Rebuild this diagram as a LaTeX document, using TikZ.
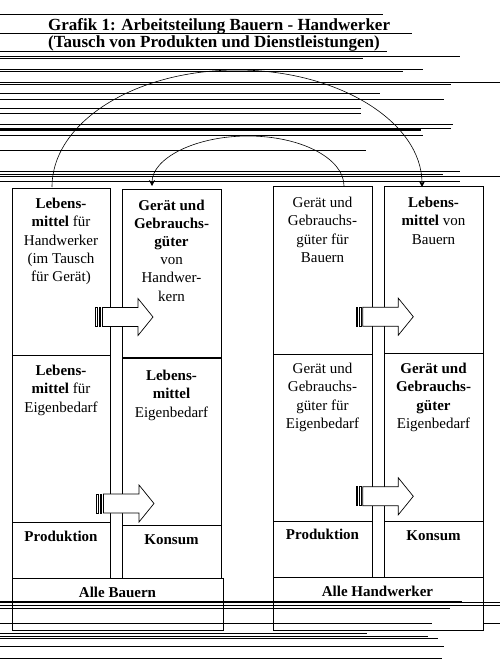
\documentclass[tikz,border=0pt]{standalone}
\usepackage{fontspec}
\setmainfont{Liberation Serif}
\usetikzlibrary{arrows.meta}
\begin{document}
\begin{tikzpicture}[x=1pt,y=-1pt,
  box/.style={draw, line width=0.9pt},
  txt/.style={font=\fontsize{15}{18.2}\selectfont, align=center, inner sep=0pt},
  ttl/.style={font=\bfseries\fontsize{17}{20}\selectfont, inner sep=0pt, anchor=base west},
  scan/.style={line width=0.7pt},
  scanthick/.style={line width=1.7pt},
  arcline/.style={line width=0.6pt, -{Stealth[length=6pt,width=6pt]}},
  blockarr/.pic={
    \draw[line width=0.7pt, fill=white] (6.8,-9.5) -- (42.3,-9.5) -- (42.3,-18.5) -- (57.3,0) -- (42.3,18.5) -- (42.3,9.5) -- (6.8,9.5) -- cycle;
    \draw[line width=0.7pt, fill=white] (0,-9.5) rectangle (1.6,9.5);
    \draw[line width=0.7pt, fill=white] (3.3,-9.5) rectangle (4.9,9.5);
  }
]
\useasboundingbox (0,0) rectangle (500,664);

% title
\node[ttl] (t1) at (48,30) {Grafik 1: Arbeitsteilung Bauern - Handwerker};
\node[ttl] (t2) at (48,47.5) {(Tausch von Produkten und Dienstleistungen)};

% boxes Bauern
\draw[box] (12,188) rectangle (110,355);
\draw[box] (12,355) rectangle (110,522);
\draw[box] (12,522) rectangle (110,578);
\draw[box] (122,189.5) rectangle (221,357);
\draw[box] (122,358) rectangle (221,525);
\draw[box] (122,525) rectangle (221,578);
\draw[box] (12,578) rectangle (223,630);
% boxes Handwerker
\draw[box] (273,186) rectangle (372,354);
\draw[box] (273,354) rectangle (372,521);
\draw[box] (273,521) rectangle (372,577);
\draw[box] (384,186) rectangle (483,353);
\draw[box] (384,353) rectangle (483,521);
\draw[box] (384,521) rectangle (483,577);
\draw[box] (273,577) rectangle (483,630);

% block arrows
\pic at (95.7,317) {blockarr};
\pic at (96.7,503.5) {blockarr};
\pic at (356,316.7) {blockarr};
\pic at (356,496.3) {blockarr};

% texts
\node[txt, anchor=north] (a1) at (61,198) {{\bfseries Lebens-}\\{\bfseries mittel} für\\Handwerker\\(im Tausch\\für Gerät)};
\node[txt, anchor=north] (b1) at (171.5,199.5) {{\bfseries Gerät und}\\{\bfseries Gebrauchs-}\\{\bfseries güter}\\von\\Handwer-\\kern};
\node[txt, anchor=north] (c1) at (322.5,197) {Gerät und\\Gebrauchs-\\güter für\\Bauern};
\node[txt, anchor=north] (d1) at (433.5,197) {{\bfseries Lebens-}\\{\bfseries mittel} von\\Bauern};

\node[txt, anchor=north] (a2) at (61,365) {{\bfseries Lebens-}\\{\bfseries mittel} für\\Eigenbedarf};
\node[txt, anchor=north] (b2) at (171.5,370) {{\bfseries Lebens-}\\{\bfseries mittel}\\Eigenbedarf};
\node[txt, anchor=north] (c2) at (322.5,363) {Gerät und\\Gebrauchs-\\güter für\\Eigenbedarf};
\node[txt, anchor=north] (d2) at (433.5,363) {{\bfseries Gerät und}\\{\bfseries Gebrauchs-}\\{\bfseries güter}\\Eigenbedarf};

\node[txt, anchor=base, font=\bfseries\fontsize{15}{18}\selectfont] (a3) at (61,541.5) {Produktion};
\node[txt, anchor=base, font=\bfseries\fontsize{15}{18}\selectfont] (b3) at (171.5,544) {Konsum};
\node[txt, anchor=base, font=\bfseries\fontsize{15}{18}\selectfont] (c3) at (322.5,539) {Produktion};
\node[txt, anchor=base, font=\bfseries\fontsize{15}{18}\selectfont] (d3) at (433.5,540) {Konsum};
\node[txt, anchor=base, font=\bfseries\fontsize{15}{18}\selectfont] (e) at (117.5,597) {Alle Bauern};
\node[txt, anchor=base, font=\bfseries\fontsize{15}{18}\selectfont] (f) at (377.5,596) {Alle Handwerker};

% exchange arcs
\coordinate (bigS) at (52,187);
\draw[arcline] (bigS) arc[start angle=180, end angle=0, x radius=185pt, y radius=117pt];
\coordinate (smS) at (344,186);
\draw[arcline] (smS) arc[start angle=0, end angle=180, x radius=96pt, y radius=50pt];

% scan lines (top)
\foreach \yy/\xe in {14.3/383, 33.3/412, 51.3/387, 56/460, 58.3/363, 69.3/423, 71/403,
  82.3/500, 84.3/451, 93.8/380, 99.3/444, 108.3/361, 113.3/361, 124.5/453, 128.6/451,
  135/423, 150.5/366, 171/460, 174.3/443, 176.5/500, 181.3/460}
  \draw[scan] (0,\yy) -- (\xe,\yy);
\draw[scanthick] (0,130.3) -- (421,130.3);
\draw[scanthick] (0,174.5) -- (157,174.5);
% scan lines (bottom)
\draw[scanthick] (0,602.3) -- (462,602.3);
\foreach \yy/\xe in {602.6/500, 605/500, 608.3/450, 623.3/432, 633.3/367, 636.7/428,
  638.7/438, 646.7/444, 658.3/442}
  \draw[scan] (0,\yy) -- (\xe,\yy);
\draw[scan] (483,623.3) -- (500,623.3);
\end{tikzpicture}
\end{document}
